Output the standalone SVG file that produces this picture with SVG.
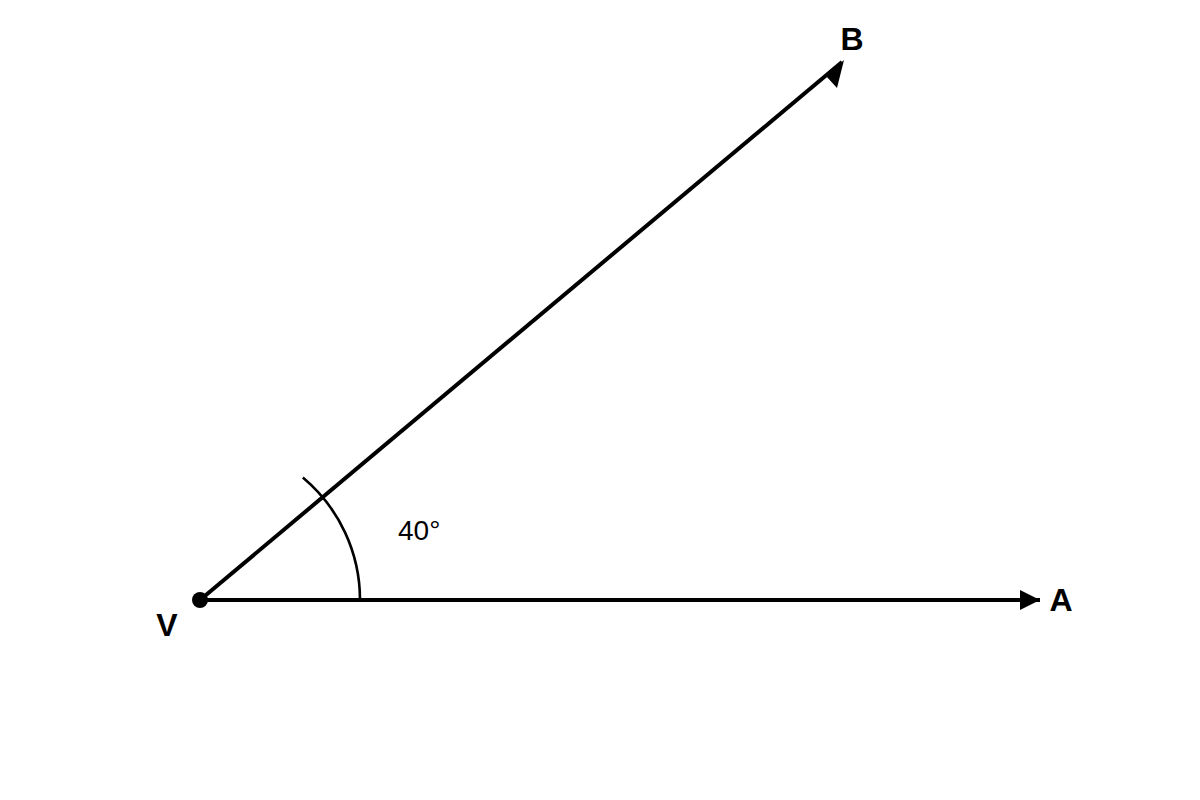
<svg xmlns="http://www.w3.org/2000/svg" width="1200" height="800" viewBox="0 0 1200 800">
<style>
.ray{stroke:#000;stroke-width:4;fill:none}
.arc{stroke:#000;stroke-width:2.6;fill:none}
.head{fill:#000;stroke:none}
.lbl{font-family:"Liberation Sans",Arial,sans-serif;font-weight:bold;font-size:32px;fill:#000;text-anchor:middle}
.ang{font-family:"Liberation Sans",Arial,sans-serif;font-size:28px;fill:#000}
</style>
<defs>
<marker id="arrow" markerUnits="userSpaceOnUse" markerWidth="20" markerHeight="20" viewBox="0 0 20 20" refX="20" refY="10" orient="auto">
<path d="M0,0 L20,10 L0,20 Z" fill="#000"/>
</marker>
</defs>
<rect width="1200" height="800" fill="#fff"/>
<g id="connectors">
<line class="ray" x1="200" y1="600" x2="1040" y2="600" marker-end="url(#arrow)"/>
<line class="ray" x1="200" y1="600" x2="842" y2="62"/>
<path class="head" d="M844,60 L826,76 L837,88 Z"/>
<path class="arc" d="M360,600 A160,160 0 0 0 302.85,477.43"/>
</g>
<g id="V">
<circle cx="200" cy="600" r="8" fill="#000"/>
<text class="lbl" x="167" y="636">V</text>
</g>
<g id="A">
<text class="lbl" x="1061" y="611">A</text>
</g>
<g id="B">
<text class="lbl" x="852" y="50">B</text>
</g>
<g id="angle">
<text class="ang" x="398" y="540">40°</text>
</g>
</svg>
